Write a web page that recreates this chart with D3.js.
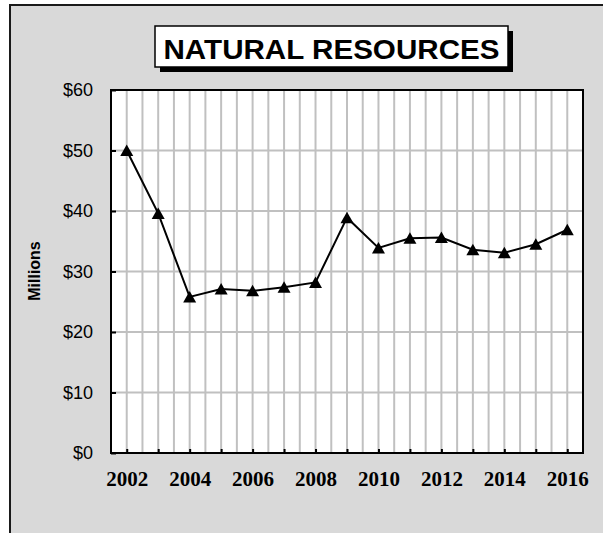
<!DOCTYPE html>
<html><head><meta charset="utf-8">
<script src="https://cdn.jsdelivr.net/npm/d3@7"></script>
<style>html,body{margin:0;padding:0;background:#fff;}svg{display:block;}</style>
</head><body>
<script>
const years = [2002,2003,2004,2005,2006,2007,2008,2009,2010,2011,2012,2013,2014,2015,2016];
const values = [50.0,39.6,25.8,27.1,26.8,27.4,28.2,38.9,33.9,35.5,35.6,33.6,33.1,34.5,36.9];
const yTicks = [0,10,20,30,40,50,60];
const xLabels = [2002,2004,2006,2008,2010,2012,2014,2016];
const title = "NATURAL RESOURCES";
const yTitle = "Millions";

const W = 603, H = 533;
const svg = d3.select("body").append("svg").attr("width", W).attr("height", H);

// outer panel
svg.append("rect").attr("x",10).attr("y",5).attr("width",620).attr("height",560)
  .attr("fill","#d9d9d9").attr("stroke","#1a1a1a").attr("stroke-width",2);

const L = 111, T = 90, R = 583, B = 453;
const x = d3.scaleLinear().domain([2001.5, 2016.5]).range([L, R]);
const y = d3.scaleLinear().domain([0, 60]).range([B, T]);

// plot background
svg.append("rect").attr("x",L).attr("y",T).attr("width",R-L).attr("height",B-T).attr("fill","#fff");

// vertical gridlines every half year
const vgrid = d3.range(years[0], years[years.length-1] + 0.01, 0.5);
svg.append("g").selectAll("line").data(vgrid).join("line")
  .attr("x1", d => x(d)).attr("x2", d => x(d)).attr("y1", T).attr("y2", B)
  .attr("stroke","#c0c0c0").attr("stroke-width",2);
// horizontal gridlines
svg.append("g").selectAll("line").data(yTicks.slice(1, -1)).join("line")
  .attr("x1", L).attr("x2", R).attr("y1", d => y(d)).attr("y2", d => y(d))
  .attr("stroke","#c0c0c0").attr("stroke-width",2);

// frame
svg.append("rect").attr("x",L).attr("y",T).attr("width",R-L).attr("height",B-T)
  .attr("fill","none").attr("stroke","#000").attr("stroke-width",2);

// y axis
const yAxis = d3.axisLeft(y).tickValues(yTicks).tickFormat(d => "$" + d).tickSizeInner(-5).tickSizeOuter(0).tickPadding(18);
const gy = svg.append("g").attr("transform", `translate(${L},0)`).call(yAxis);
gy.select(".domain").remove();
gy.selectAll(".tick line").attr("stroke","#000").attr("stroke-width",2);
gy.selectAll("text").attr("font-family","Liberation Sans, Arial, sans-serif").attr("font-size",18).attr("fill","#000");

// x axis
const xAxis = d3.axisBottom(x).tickValues(years).tickFormat(d => xLabels.includes(d) ? String(d) : "")
  .tickSizeInner(-4).tickSizeOuter(0).tickPadding(18);
const gx = svg.append("g").attr("transform", `translate(0,${B})`).call(xAxis);
gx.select(".domain").remove();
gx.selectAll(".tick line").attr("stroke","#000").attr("stroke-width",2);
gx.selectAll("text").attr("font-family","Liberation Serif, 'Times New Roman', serif").attr("font-weight","bold")
  .attr("font-size",21).attr("fill","#000");

// line
svg.append("path").datum(years.map((d,i)=>[d, values[i]]))
  .attr("fill","none").attr("stroke","#000").attr("stroke-width",2)
  .attr("d", d3.line().x(d => x(d[0])).y(d => y(d[1])));

// triangle markers
svg.append("g").selectAll("path").data(years.map((d,i)=>[d, values[i]])).join("path")
  .attr("transform", d => `translate(${x(d[0])},${y(d[1])})`)
  .attr("d", "M0,-6L6.5,5.5L-6.5,5.5Z").attr("fill","#000");

// y title
svg.append("text").attr("transform","translate(40,271) rotate(-90)")
  .attr("text-anchor","middle").attr("font-family","Liberation Sans, Arial, sans-serif")
  .attr("font-weight","bold").attr("font-size",16).attr("fill","#000").text(yTitle);

// title box with shadow
svg.append("rect").attr("x",160).attr("y",31).attr("width",353).attr("height",41).attr("fill","#000");
svg.append("rect").attr("x",155).attr("y",26).attr("width",353).attr("height",41)
  .attr("fill","#fff").attr("stroke","#000").attr("stroke-width",1.5);
svg.append("text").attr("x",331.5).attr("y",59).attr("text-anchor","middle")
  .attr("font-family","Liberation Sans, Arial, sans-serif").attr("font-weight","bold")
  .attr("font-size",27).attr("textLength",336).attr("lengthAdjust","spacingAndGlyphs")
  .attr("fill","#000").text(title);
</script>
</body></html>
